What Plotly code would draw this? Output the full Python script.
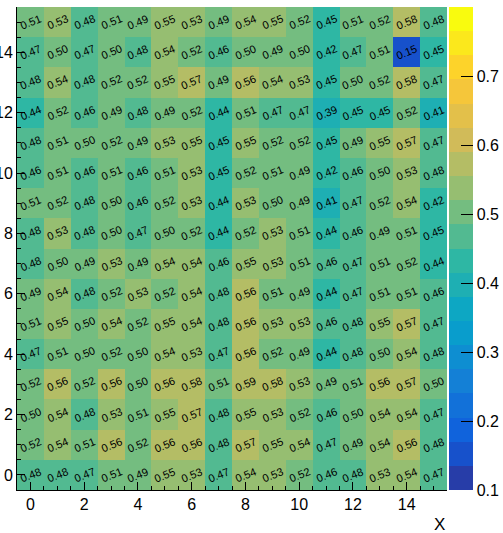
import plotly.graph_objects as go
import numpy as np

x_vals = list(range(16))
y_vals = list(range(16))

# rows listed from y=15 (top) down to y=0 (bottom)
rows_top_down = [
    [0.51, 0.53, 0.48, 0.51, 0.49, 0.55, 0.53, 0.49, 0.54, 0.55, 0.52, 0.45, 0.51, 0.52, 0.58, 0.48],
    [0.47, 0.50, 0.47, 0.50, 0.48, 0.54, 0.52, 0.46, 0.50, 0.49, 0.50, 0.42, 0.47, 0.51, 0.15, 0.45],
    [0.48, 0.54, 0.48, 0.52, 0.52, 0.55, 0.57, 0.49, 0.56, 0.54, 0.53, 0.45, 0.50, 0.52, 0.58, 0.47],
    [0.44, 0.52, 0.46, 0.49, 0.48, 0.49, 0.52, 0.44, 0.51, 0.47, 0.47, 0.39, 0.45, 0.45, 0.52, 0.41],
    [0.48, 0.51, 0.50, 0.52, 0.49, 0.53, 0.55, 0.45, 0.55, 0.52, 0.52, 0.45, 0.49, 0.55, 0.57, 0.47],
    [0.46, 0.51, 0.46, 0.51, 0.46, 0.51, 0.53, 0.45, 0.52, 0.51, 0.49, 0.42, 0.46, 0.50, 0.53, 0.48],
    [0.51, 0.52, 0.48, 0.50, 0.46, 0.52, 0.53, 0.44, 0.53, 0.50, 0.49, 0.41, 0.47, 0.52, 0.54, 0.42],
    [0.48, 0.53, 0.48, 0.50, 0.47, 0.50, 0.52, 0.44, 0.52, 0.53, 0.51, 0.44, 0.46, 0.49, 0.51, 0.45],
    [0.48, 0.50, 0.49, 0.53, 0.49, 0.54, 0.54, 0.46, 0.55, 0.53, 0.51, 0.46, 0.47, 0.51, 0.52, 0.44],
    [0.49, 0.54, 0.48, 0.52, 0.53, 0.52, 0.54, 0.48, 0.56, 0.51, 0.49, 0.44, 0.47, 0.51, 0.51, 0.46],
    [0.51, 0.55, 0.50, 0.54, 0.52, 0.55, 0.54, 0.48, 0.56, 0.53, 0.53, 0.46, 0.48, 0.55, 0.57, 0.47],
    [0.47, 0.51, 0.50, 0.52, 0.50, 0.54, 0.53, 0.47, 0.56, 0.52, 0.49, 0.44, 0.48, 0.50, 0.54, 0.48],
    [0.52, 0.56, 0.52, 0.56, 0.50, 0.56, 0.58, 0.51, 0.59, 0.58, 0.53, 0.49, 0.51, 0.56, 0.57, 0.50],
    [0.50, 0.54, 0.48, 0.53, 0.51, 0.55, 0.57, 0.48, 0.55, 0.53, 0.52, 0.46, 0.50, 0.54, 0.54, 0.47],
    [0.52, 0.54, 0.51, 0.56, 0.52, 0.56, 0.56, 0.48, 0.57, 0.55, 0.54, 0.47, 0.49, 0.54, 0.56, 0.48],
    [0.48, 0.48, 0.47, 0.51, 0.49, 0.55, 0.53, 0.47, 0.54, 0.53, 0.52, 0.46, 0.48, 0.53, 0.54, 0.47],
]
z = rows_top_down[::-1]  # z[j] corresponds to y = j

zmin, zmax = 0.1, 0.8
n_contours = 20
cbar_ticks = [0.1, 0.2, 0.3, 0.4, 0.5, 0.6, 0.7, 0.8]

# ROOT kBird palette
stops = [0.0, 0.125, 0.25, 0.375, 0.5, 0.625, 0.75, 0.875, 1.0]
red = [0.2082, 0.0592, 0.0780, 0.0232, 0.1802, 0.5301, 0.8186, 0.9956, 0.9764]
green = [0.1664, 0.3599, 0.5041, 0.6419, 0.7178, 0.7492, 0.7328, 0.7862, 0.9832]
blue = [0.5293, 0.8684, 0.8385, 0.7914, 0.6425, 0.4662, 0.3499, 0.1968, 0.0539]
ncol = 255
pos = np.linspace(0, 1, ncol)
pal_r = np.interp(pos, stops, red)
pal_g = np.interp(pos, stops, green)
pal_b = np.interp(pos, stops, blue)

colorscale = []
for i in range(n_contours):
    idx = min(int((i + 0.99) * ncol / n_contours), ncol - 1)
    c = "rgb(%d,%d,%d)" % (round(pal_r[idx] * 255), round(pal_g[idx] * 255), round(pal_b[idx] * 255))
    colorscale.append([i / n_contours, c])
    colorscale.append([(i + 1) / n_contours, c])

FONT = "Liberation Sans, Arial, Helvetica"

fig = go.Figure()
fig.add_trace(go.Heatmap(
    x=x_vals, y=y_vals, z=z, zmin=zmin, zmax=zmax + 1e-6,
    colorscale=colorscale,
    colorbar=dict(
        x=1.0, xanchor="left", xpad=2, y=0.5, yanchor="middle", len=1.0, ypad=0,
        thickness=24, outlinewidth=0,
        tickmode="array",
        tickvals=cbar_ticks,
        ticktext=["%.1f" % v for v in cbar_ticks],
        ticks="inside", ticklen=12, tickcolor="black", tickwidth=1,
        tickfont=dict(family=FONT, size=16, color="black"),
    ),
    hoverinfo="skip",
))

annotations = []
for j, yv in enumerate(y_vals):
    for i, xv in enumerate(x_vals):
        annotations.append(dict(
            x=xv, y=yv, xref="x", yref="y", text="%.2f" % z[j][i],
            showarrow=False, textangle=-22,
            font=dict(family=FONT, size=11, color="black"),
        ))
annotations.append(dict(
    x=1.0, y=-0.072, xref="paper", yref="paper", text="X", showarrow=False,
    xanchor="right", yanchor="middle",
    font=dict(family=FONT, size=17, color="black"),
))

axis_common = dict(
    ticks="inside", ticklen=8, tickcolor="black", tickwidth=1,
    showline=True, linecolor="black", linewidth=1,
    showgrid=False, zeroline=False, automargin=False,
    tickfont=dict(family=FONT, size=16, color="black"),
    minor=dict(ticks="inside", ticklen=4, dtick=0.5, tick0=0, tickcolor="black"),
)

fig.update_layout(
    width=503, height=533,
    margin=dict(l=17, r=56, t=7, b=43, autoexpand=False),
    paper_bgcolor="white", plot_bgcolor="white",
    xaxis=dict(range=[-0.5, 15.5], tick0=0, dtick=2, ticklabelstandoff=0, **axis_common),
    yaxis=dict(range=[-0.5, 15.5], tick0=0, dtick=2, ticklabelstandoff=0, **axis_common),
    annotations=annotations,
)

fig.write_html("out.html", config={"displayModeBar": False},
               post_script="document.body.style.margin='0px';")
